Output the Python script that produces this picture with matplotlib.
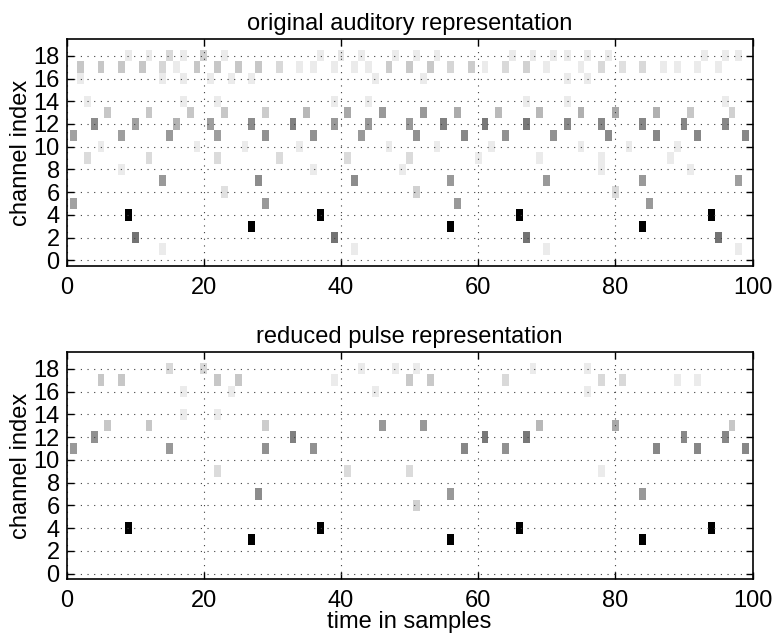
import matplotlib
matplotlib.use('Agg')
import matplotlib.pyplot as plt

# Pulse events per channel: sample index and gray level (0 = black, 1 = white)
orig_times = {
    18: [9, 12, 15, 17, 20, 23, 37, 40, 43, 48, 51, 54, 65, 68, 71, 73, 76, 79, 93, 96, 98],
    17: [2, 5, 8, 11, 14, 16, 19, 22, 25, 28, 31, 34, 36, 39, 42, 44, 47,
         50, 53, 56, 59, 61, 64, 67, 70, 75, 78, 81, 84, 87, 89, 92, 95],
    16: [2, 14, 17, 21, 24, 27, 45, 52, 73, 76],
    14: [3, 17, 22, 39, 44, 67, 73, 96],
    13: [6, 12, 18, 23, 29, 35, 41, 46, 52, 57, 63, 69, 75, 80, 86, 91, 97],
    12: [4, 10, 16, 21, 27, 33, 39, 44, 50, 55, 61, 67, 73, 78, 84, 90, 96],
    11: [1, 8, 15, 22, 29, 36, 43, 51, 58, 64, 71, 79, 86, 92, 99],
    10: [5, 19, 26, 34, 47, 54, 62, 75, 82, 89],
    9: [3, 12, 22, 31, 41, 50, 60, 69, 78, 88],
    8: [8, 36, 49, 78, 91],
    7: [14, 28, 42, 56, 70, 84, 98],
    6: [23, 51, 80],
    5: [1, 29, 57, 85],
    4: [9, 37, 66, 94],
    3: [27, 56, 84],
    2: [10, 39, 67, 95],
    1: [14, 42, 70, 98],
}
orig_grays = {
    18: [.92, .92, .85, .92, .82, .92, .92, .90, .92, .92, .92,
         .92, .92, .92, .92, .92, .92, .92, .92, .92, .92],
    17: [.78, .78, .78, .78, .84, .92, .78, .78, .78, .78, .85, .92, .92, .92, .92, .92, .80,
         .79, .79, .84, .80, .92, .85, .82, .92, .92, .85, .88, .85, .92, .92, .92, .92],
    16: [.92] * 10,
    14: [.92] * 8,
    13: [.78, .78, .78, .78, .80, .72, .66, .60, .60, .67, .73, .72, .69, .66, .69, .78, .82],
    12: [.55, .63, .70, .62, .55, .50, .60, .60, .60, .50, .47, .47, .53, .53, .53, .53, .53],
    11: [.63, .62, .60, .62, .57, .57, .60, .57, .53, .57, .57, .54, .53, .53, .53],
    10: [.92] * 10,
    9: [.86, .86, .86, .86, .86, .86, .92, .92, .92, .92],
    8: [.92] * 5,
    7: [.60, .55, .55, .60, .60, .60, .62],
    6: [.88, .82, .85],
    5: [.63, .60, .60, .60],
    4: [0, 0, 0, 0],
    3: [0, 0, 0],
    2: [.45, .45, .45, .45],
    1: [.92] * 4,
}

reduced_times = {
    18: [15, 20, 43, 48, 51, 68, 76],
    17: [5, 8, 22, 25, 39, 50, 53, 64, 78, 81, 89, 92],
    16: [17, 24, 45, 76],
    14: [17, 22],
    13: [6, 12, 29, 46, 52, 69, 80, 97],
    12: [4, 33, 61, 67, 90, 96],
    11: [1, 15, 29, 36, 58, 64, 86, 92, 99],
    9: [22, 41, 50, 78],
    7: [28, 56, 84],
    6: [51],
    4: [9, 37, 66, 94],
    3: [27, 56, 84],
}
reduced_grays = {
    18: [.85, .85, .92, .92, .92, .92, .92],
    17: [.78, .78, .78, .78, .92, .79, .79, .85, .85, .85, .92, .92],
    16: [.92] * 4,
    14: [.92] * 2,
    13: [.78, .78, .80, .60, .60, .72, .66, .78],
    12: [.57, .50, .47, .47, .53, .53],
    11: [.60, .60, .57, .57, .53, .57, .53, .53, .53],
    9: [.86, .86, .86, .92],
    7: [.55, .60, .60],
    6: [.82],
    4: [0, 0, 0, 0],
    3: [0, 0, 0],
}

plt.rcParams['font.family'] = ['Liberation Sans', 'DejaVu Sans']
plt.rcParams['font.size'] = 17

fig = plt.figure(figsize=(7.75, 6.34), dpi=100)
ax_top = fig.add_axes([0.086, 0.5804, 0.885, 0.3585])
ax_bot = fig.add_axes([0.086, 0.0863, 0.885, 0.359])


def draw_pulses(ax, times, grays, title):
    for ch in times:
        ax.bar(times[ch], 1.0, width=1.0, bottom=ch - 0.5,
               color=[str(g) for g in grays[ch]], linewidth=0, zorder=1)
    ax.set_xlim(0, 100)
    ax.set_ylim(-0.5, 19.5)
    ax.set_xticks(range(0, 101, 20))
    ax.set_yticks(range(0, 19, 2))
    ax.grid(True, color='0.25', linestyle=(0, (1, 5)), linewidth=0.8, zorder=2)
    ax.set_axisbelow(False)
    ax.tick_params(direction='in', top=True, right=True, length=5,
                   width=1, labelsize=17)
    ax.tick_params(axis='x', pad=8)
    ax.tick_params(axis='y', pad=5)
    for sp in ax.spines.values():
        sp.set_linewidth(1.2)
        sp.set_zorder(3)
    ax.set_ylabel('channel index', fontsize=17, labelpad=1)
    ax.set_title(title, fontsize=17, pad=6)


draw_pulses(ax_top, orig_times, orig_grays, 'original auditory representation')
draw_pulses(ax_bot, reduced_times, reduced_grays, 'reduced pulse representation')
ax_bot.set_xlabel('time in samples', fontsize=17)
ax_bot.xaxis.set_label_coords(0.5, -0.138)

fig.savefig('out.png', dpi=100)
